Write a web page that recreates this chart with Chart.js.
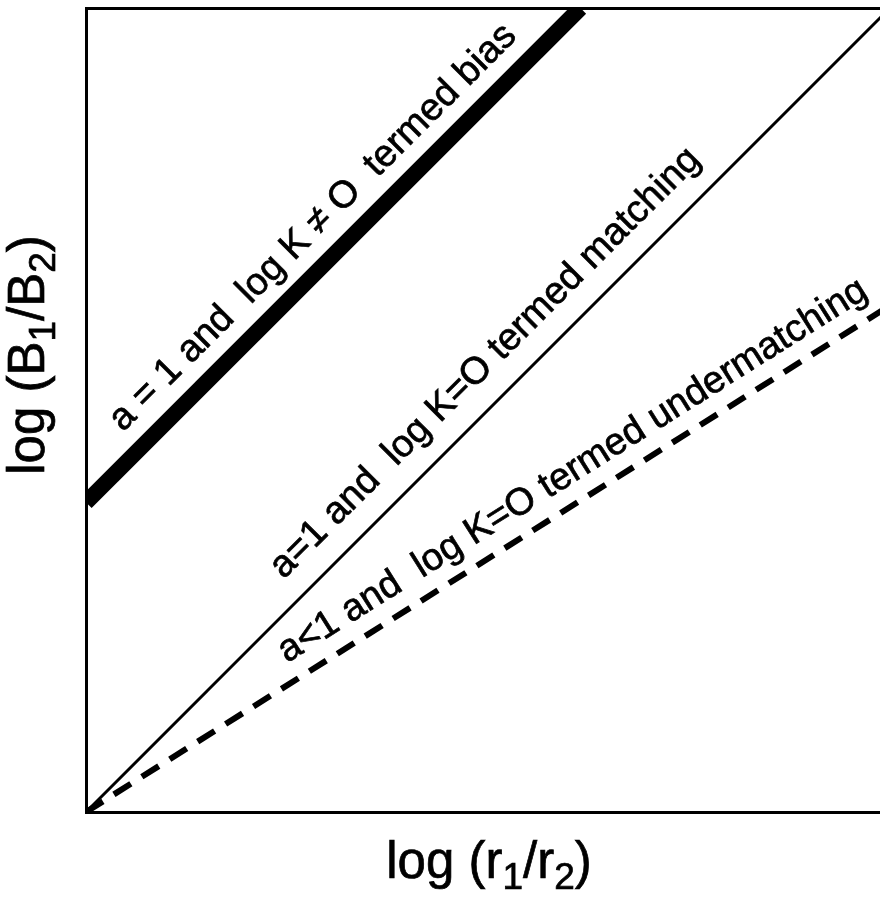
<!DOCTYPE html>
<html>
<head>
<meta charset="utf-8">
<script src="https://cdn.jsdelivr.net/npm/chart.js@4"></script>
<style>
html, body { margin: 0; padding: 0; overflow: hidden; background: #fff; }
#wrap { position: absolute; left: 0; top: 0; width: 900px; height: 899px; }
</style>
</head>
<body>
<div id="wrap"><canvas id="chart_1"></canvas></div>
<script>
// the three lines of the matching-law sketch (unitless axes)
const line_x = [0, 1];
const matching = [0, 1];
const undermatching = [0, 0.63];
const bias_x = [0, 0.615];
const bias = [0.385, 1];

const line_labels = [
    "a = 1 and  log K \u2260 O  termed bias",
    "a=1 and  log K=O termed matching",
    "a<1 and  log K=O termed undermatching"
];

const x_title = [["log (r", 0], ["1", 1], ["/r", 0], ["2", 1], [")", 0]];
const y_title = [["log (B", 0], ["1", 1], ["/B", 0], ["2", 1], [")", 0]];

const FONT = '"Liberation Sans", Arial, Helvetica, sans-serif';

function pts(xs, ys) {
    return xs.map((x, i) => ({ x: x, y: ys[i] }));
}

// fill + thin stroke so the type looks as heavy as the scanned original
function heavyText(ctx, txt, x, y) {
    ctx.fillText(txt, x, y);
    ctx.strokeText(txt, x, y);
}

// draws text with lowered subscripts, centred on (0,0) of the current transform
function richText(ctx, parts, size) {
    const subSize = Math.round(size * 0.72);
    let total = 0;
    parts.forEach(p => {
        ctx.font = (p[1] ? subSize : size) + "px " + FONT;
        total += ctx.measureText(p[0]).width;
    });
    let x = -total / 2;
    parts.forEach(p => {
        ctx.font = (p[1] ? subSize : size) + "px " + FONT;
        heavyText(ctx, p[0], x, p[1] ? size * 0.22 : 0);
        x += ctx.measureText(p[0]).width;
    });
}

const textPlugin = {
    id: "sketchText",
    afterDraw(chart) {
        const ctx = chart.ctx;
        const xs = chart.scales.x, ys = chart.scales.y;
        const area = chart.chartArea;
        ctx.save();
        ctx.fillStyle = "#000";
        ctx.strokeStyle = "#000";
        ctx.lineWidth = 0.7;
        ctx.textBaseline = "alphabetic";
        ctx.textAlign = "left";

        // label anchors in data units, one per dataset
        const anchors = [[0.046, 0.472], [0.246, 0.289], [0.25, 0.185]];
        const order = [2, 0, 1];
        line_labels.forEach((txt, i) => {
            const meta = chart.getDatasetMeta(order[i]);
            const a = meta.data[0], b = meta.data[1];
            const ang = Math.atan2(b.y - a.y, b.x - a.x);
            ctx.save();
            ctx.translate(xs.getPixelForValue(anchors[i][0]), ys.getPixelForValue(anchors[i][1]));
            ctx.rotate(ang);
            ctx.font = "38px " + FONT;
            heavyText(ctx, txt, 0, 0);
            ctx.restore();
        });

        // axis titles
        ctx.save();
        ctx.translate(489, area.bottom + 66);
        richText(ctx, x_title, 51);
        ctx.restore();

        ctx.save();
        ctx.translate(44, 355);
        ctx.rotate(-Math.PI / 2);
        richText(ctx, y_title, 51);
        ctx.restore();

        ctx.restore();
    }
};

const edge = { display: true, color: "#000", width: 3 };

const chart1 = new Chart(document.getElementById("chart_1").getContext("2d"), {
    type: "line",
    data: {
        datasets: [
            {
                label: "matching",
                data: pts(line_x, matching),
                borderColor: "#000",
                borderWidth: 3,
                pointRadius: 0,
            },
            {
                label: "undermatching",
                data: pts(line_x, undermatching),
                borderColor: "#000",
                borderWidth: 6,
                borderDash: [20, 13],
                pointRadius: 0,
            },
            {
                label: "bias",
                data: pts(bias_x, bias),
                borderColor: "#000",
                borderWidth: 16,
                pointRadius: 0,
            }
        ]
    },
    options: {
        responsive: true,
        maintainAspectRatio: false,
        animation: false,
        layout: { padding: { left: 86, top: 8, right: 10, bottom: 87 } },
        plugins: {
            legend: { display: false },
            tooltip: { enabled: false },
        },
        scales: {
            x: {
                type: "linear",
                min: 0,
                max: 1,
                ticks: { display: false },
                grid: { display: false, drawTicks: false },
                border: edge,
            },
            x2: {
                type: "linear",
                position: "top",
                min: 0,
                max: 1,
                ticks: { display: false },
                grid: { display: false, drawTicks: false },
                border: edge,
            },
            y: {
                min: 0,
                max: 1,
                ticks: { display: false },
                grid: { display: false, drawTicks: false },
                border: edge,
            }
        }
    },
    plugins: [textPlugin]
});
</script>
</body>
</html>
